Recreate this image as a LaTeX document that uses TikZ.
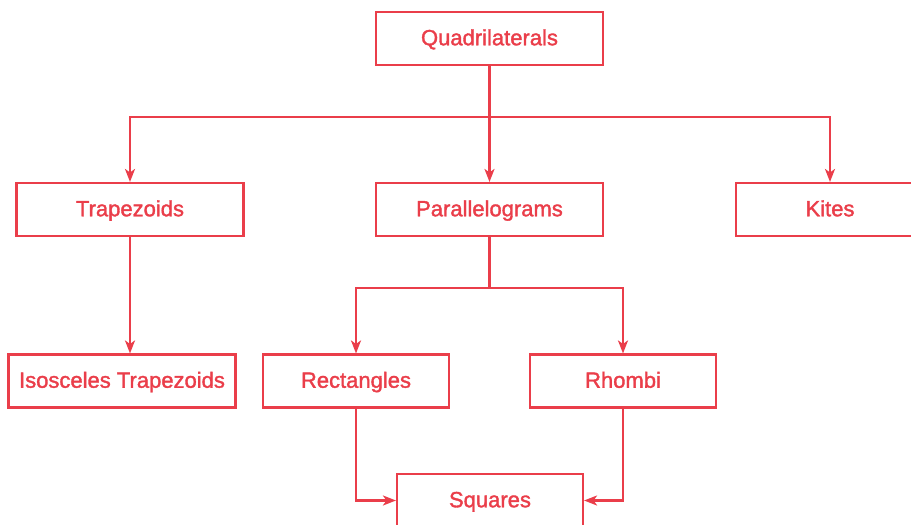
\documentclass[tikz,border=0pt]{standalone}
\usepackage{fontspec}
\setmainfont{Liberation Sans}
\newfontfamily\labelfont{Liberation Sans}[BoldFont=Liberation Sans, BoldFeatures={FakeBold=1.6}]
\usetikzlibrary{arrows.meta}
\definecolor{chartred}{RGB}{234,62,74}
\begin{document}
\begin{tikzpicture}[x=1pt,y=-1pt,
  box/.style={draw=chartred, line width=2.1pt, text=chartred, minimum height=53pt,
    inner sep=0pt, text height=13.5pt, text depth=0pt,
    font=\labelfont\bfseries\fontsize{22}{25}\selectfont},
  wide/.style={box, minimum width=227pt},
  mid/.style={box, minimum width=186pt},
  link/.style={draw=chartred, line width=2.1pt},
  arr/.style={link, -{Stealth[length=13pt, width=10pt, inset=3.5pt]}}]
\useasboundingbox (0,0) rectangle (911,525);
\clip (0,0) rectangle (911,525);

% boxes
\node[wide] (quad) at (489.5,38.5) {Quadrilaterals};
\node[wide] (trap) at (130,209.5) {Trapezoids};
\node[wide] (para) at (489.5,209.5) {Parallelograms};
\node[box, minimum width=188pt] (kite) at (830,209.5) {Kites};
\node[wide] (isos) at (122,381) {Isosceles Trapezoids};
\node[mid] (rect) at (356,381) {Rectangles};
\node[mid] (rhom) at (623,381) {Rhombi};
\node[mid] (squa) at (490,500.5) {Squares};

% branch points
\coordinate (top) at (489.5,117);
\coordinate (low) at (489.5,288);

% connectors
\draw[link] (quad.south) -- (top);
\draw[arr] (top) -| (trap.north);
\draw[arr] (top) -| (kite.north);
\draw[arr] (top) -- (para.north);
\draw[arr] (trap.south) -- (trap.south |- isos.north);
\draw[link] (para.south) -- (low);
\draw[arr] (low) -| (rect.north);
\draw[arr] (low) -| (rhom.north);
\draw[arr] (rect.south) |- (squa.west);
\draw[arr] (rhom.south) |- (squa.east);
\end{tikzpicture}
\end{document}
